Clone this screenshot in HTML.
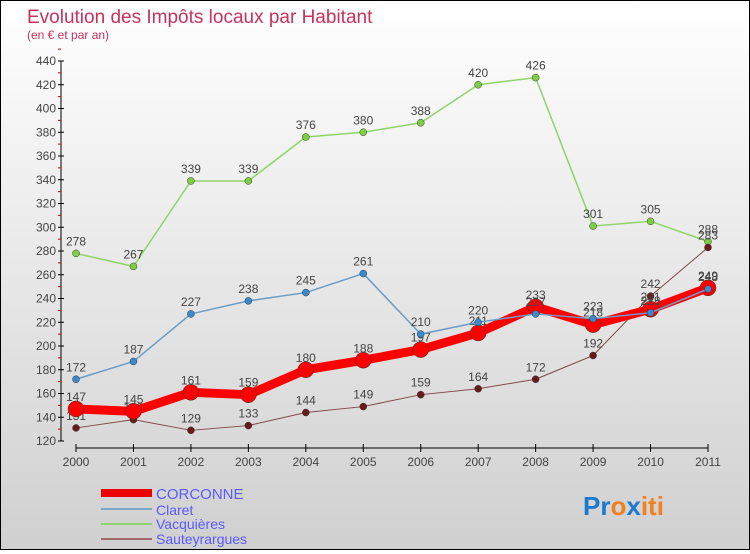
<!DOCTYPE html>
<html><head><meta charset="utf-8"><style>
body{margin:0}
#c{width:748px;height:548px;border:1px solid #000;background:linear-gradient(#fff,#d0d0d0);position:relative;font-family:"Liberation Sans",sans-serif}
</style></head><body>
<div id="c">
<svg id="s" width="748" height="548">
<text x="26" y="22" font-size="19" fill="#c8325a">Evolution des Impôts locaux par Habitant</text>
<text x="26" y="38" font-size="12" fill="#c8325a">(en € et par an)</text>
<g id="ax"></g><g id="ser"></g>
<g>
<rect x="100" y="488" width="51" height="8" fill="#e00"/>
<text x="155" y="498" font-size="15" fill="#5a5aff">CORCONNE</text>
<line x1="100" y1="508" x2="151" y2="508" stroke="#7aa6c8" stroke-width="2"/>
<text x="155" y="514" font-size="14" fill="#5a5aff">Claret</text>
<line x1="100" y1="523" x2="151" y2="523" stroke="#8fd46a" stroke-width="2"/>
<text x="155" y="528" font-size="14" fill="#5a5aff">Vacquières</text>
<line x1="100" y1="538" x2="151" y2="538" stroke="#a06a6a" stroke-width="2"/>
<text x="155" y="543" font-size="14" fill="#5a5aff">Sauteyrargues</text>
</g>
<text x="582" y="514" font-size="26" font-weight="bold"><tspan fill="#1a7ad0">Pr</tspan><tspan fill="#f08020">o</tspan><tspan fill="#1a7ad0">x</tspan><tspan fill="#f08020">iti</tspan></text>
</svg></div>
<script>
const years=[2000,2001,2002,2003,2004,2005,2006,2007,2008,2009,2010,2011];
const yTicks=[120,140,160,180,200,220,240,260,280,300,320,340,360,380,400,420,440];
const corconne=[147,145,161,159,180,188,197,211,233,218,231,249];
const claret=[172,187,227,238,245,261,210,220,227,223,228,248];
const vacquieres=[278,267,339,339,376,380,388,420,426,301,305,288];
const sauteyrargues=[131,138,129,133,144,149,159,164,172,192,242,283];
const NS="http://www.w3.org/2000/svg";
const X=i=>75+i*(632/11), Y=v=>440-(v-120)*380/320;
function mk(t,a,p){const e=document.createElementNS(NS,t);for(const k in a)e.setAttribute(k,a[k]);p.appendChild(e);return e;}
const ax=document.getElementById('ax');
mk('line',{x1:60,y1:60,x2:60,y2:440,stroke:'#000'},ax);
mk('line',{x1:75,y1:447,x2:707,y2:447,stroke:'#000'},ax);
yTicks.forEach(v=>{mk('line',{x1:57,y1:Y(v),x2:63,y2:Y(v),stroke:'#000'},ax);
 mk('line',{x1:57,y1:Y(v+10),x2:60,y2:Y(v+10),stroke:'#c00'},ax);
 const t=mk('text',{x:55,y:Y(v)+4,'font-size':12,fill:'#444','text-anchor':'end'},ax);t.textContent=v;
 
 });
years.forEach((y,i)=>{mk('line',{x1:X(i),y1:443,x2:X(i),y2:451,stroke:'#000'},ax);
 const t=mk('text',{x:X(i),y:465,'font-size':12,fill:'#444','text-anchor':'middle'},ax);t.textContent=y;
 
 });
const g=document.getElementById('ser');
function series(d,col,w,r,mcol,name){
 const pl=mk('polyline',{points:d.map((v,i)=>X(i)+','+Y(v)).join(' '),fill:'none',stroke:col,'stroke-width':w,'stroke-linejoin':'round'},g);
 
 
 d.forEach((v,i)=>{const c=mk('circle',{cx:X(i),cy:Y(v),r:r,fill:mcol,stroke:'#333','stroke-width':0.5},g);
  
  
  const t=mk('text',{x:X(i),y:Y(v)-8,'font-size':12,fill:'#444','text-anchor':'middle'},g);t.textContent=v;
  
  });
}
series(vacquieres,'#8fd46a',1.5,3.5,'#7cd040','vacquieres');
series(sauteyrargues,'#804a4a',1,3.5,'#6a1a1a','sauteyrargues');
series(corconne,'#f00',9,8,'#f00','corconne');
series(claret,'#6a9cc8',1.5,3.5,'#3a8ad0','claret');
</script>
</body></html>
